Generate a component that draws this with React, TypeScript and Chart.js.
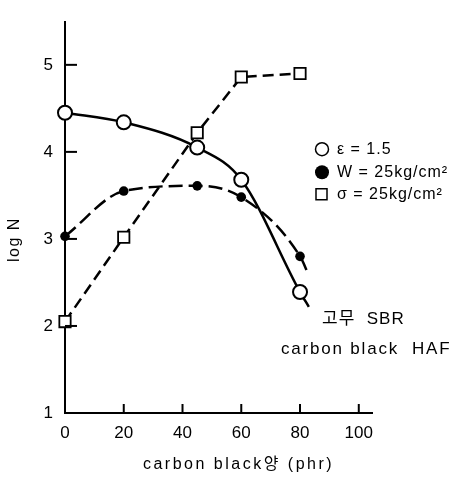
import React, { useEffect, useRef } from 'react';
import { Chart, registerables } from 'chart.js';

Chart.register(...registerables);

// ---- data ----
const carbonBlack = [0, 20, 45, 60, 80];
const logNStrain = [4.45, 4.34, 4.05, 3.68, 2.39]; // ε = 1.5 (open circles)
const logNEnergy = [3.03, 3.55, 3.61, 3.48, 2.8]; // W = 25kg/cm² (filled circles)
const logNStress = [2.05, 3.02, 4.22, 4.86, 4.9]; // σ = 25kg/cm² (squares)
const curveEndX = 83; // where the drawn curves stop past the last point
const logNStrainEnd = 2.22;
const logNEnergyEnd = 2.58;

const xTicks = [0, 20, 40, 60, 80, 100];
const yTicks = [1, 2, 3, 4, 5];

const legendLabels = ['ε = 1.5', 'W = 25kg/cm²', 'σ = 25kg/cm²'];
const xTitle = 'carbon black양 (phr)';
const yTitle = 'log N';
const noteRubber = '고무  SBR';
const noteFiller = 'carbon black  HAF';

const FONT = "'Liberation Sans', Arial, 'Noto Sans CJK KR', sans-serif";

const overlay = {
  id: 'overlay',
  afterDraw(chart: any) {
    const ctx = chart.ctx as CanvasRenderingContext2D;
    const xs = chart.scales.x;
    const ys = chart.scales.y;
    const a = chart.chartArea;
    ctx.save();
    ctx.strokeStyle = '#000';
    ctx.lineWidth = 2;
    // inward tick marks
    ys.ticks.forEach((t: any) => {
      if (t.value === ys.min) return;
      const py = ys.getPixelForValue(t.value);
      ctx.beginPath();
      ctx.moveTo(a.left, py);
      ctx.lineTo(a.left + 12, py);
      ctx.stroke();
    });
    xs.ticks.forEach((t: any) => {
      if (t.value === xs.min) return;
      const px = xs.getPixelForValue(t.value);
      ctx.beginPath();
      ctx.moveTo(px, a.bottom);
      ctx.lineTo(px, a.bottom - 9);
      ctx.stroke();
    });

    ctx.fillStyle = '#000';
    ctx.textBaseline = 'middle';

    // axis titles
    ctx.font = `16px ${FONT}`;
    (ctx as any).letterSpacing = '2.5px';
    ctx.textAlign = 'center';
    ctx.fillText(xTitle, (a.left + a.right) / 2 + 20, a.bottom + 52);

    ctx.save();
    (ctx as any).letterSpacing = '1.5px';
    ctx.translate(15, (a.top + a.bottom) / 2 + 22);
    ctx.rotate(-Math.PI / 2);
    ctx.fillText(yTitle, 0, 0);
    ctx.restore();

    // legend
    const mx = a.right - 50;
    const rows = [a.top + 127, a.top + 150, a.top + 172];
    ctx.lineWidth = 1.5;
    ctx.beginPath();
    ctx.arc(mx, rows[0], 6.5, 0, Math.PI * 2);
    ctx.fillStyle = '#fff';
    ctx.fill();
    ctx.stroke();
    ctx.beginPath();
    ctx.arc(mx, rows[1], 7, 0, Math.PI * 2);
    ctx.fillStyle = '#000';
    ctx.fill();
    ctx.beginPath();
    ctx.rect(mx - 6, rows[2] - 5.5, 11, 11);
    ctx.stroke();

    ctx.fillStyle = '#000';
    ctx.font = `16px ${FONT}`;
    (ctx as any).letterSpacing = '1px';
    ctx.textAlign = 'left';
    legendLabels.forEach((lab, i) => {
      ctx.fillText(lab, mx + 15, rows[i]);
    });

    // notes
    ctx.font = `17px ${FONT}`;
    (ctx as any).letterSpacing = '1px';
    ctx.fillText(noteRubber, a.right - 50, a.top + 297);
    (ctx as any).letterSpacing = '1.8px';
    ctx.fillText(noteFiller, a.right - 91, a.top + 327);

    ctx.restore();
  },
};

export default function App() {
  const ref = useRef<HTMLCanvasElement>(null);

  useEffect(() => {
    if (!ref.current) return;
    const pts = (ys: number[]) => carbonBlack.map((x, i) => ({ x, y: ys[i] }));
    const chart = new Chart(ref.current, {
      type: 'line',
      data: {
        datasets: [
          {
            label: legendLabels[0],
            data: [...pts(logNStrain), { x: curveEndX, y: logNStrainEnd }],
            borderColor: '#000',
            borderWidth: 2.5,
            cubicInterpolationMode: 'monotone',
            pointStyle: 'circle',
            pointRadius: [...carbonBlack.map(() => 7), 0],
            pointBackgroundColor: '#fff',
            pointBorderColor: '#000',
            pointBorderWidth: 2,
            clip: false,
          } as any,
          {
            label: legendLabels[1],
            data: [...pts(logNEnergy), { x: curveEndX, y: logNEnergyEnd }],
            borderColor: '#000',
            borderWidth: 2.5,
            borderDash: [14, 6],
            cubicInterpolationMode: 'monotone',
            pointStyle: 'circle',
            pointRadius: [...carbonBlack.map(() => 4.8), 0],
            pointBackgroundColor: '#000',
            pointBorderColor: '#000',
            pointBorderWidth: 0,
            clip: false,
          } as any,
          {
            label: legendLabels[2],
            data: pts(logNStress),
            borderColor: '#000',
            borderWidth: 2.5,
            borderDash: [11, 6],
            tension: 0,
            pointStyle: 'rect',
            pointRadius: 8,
            pointBackgroundColor: '#fff',
            pointBorderColor: '#000',
            pointBorderWidth: 1.8,
            clip: false,
          } as any,
        ],
      },
      options: {
        animation: false,
        responsive: false,
        events: [],
        layout: { padding: { top: 8, right: 84, left: 0, bottom: 0 } },
        plugins: {
          legend: { display: false },
          tooltip: { enabled: false },
        },
        scales: {
          x: {
            type: 'linear',
            min: 0,
            max: 104.5,
            afterBuildTicks: (s: any) => {
              s.ticks = xTicks.map((v) => ({ value: v }));
            },
            afterFit: (s: any) => {
              s.height = 65;
            },
            grid: { display: true, drawOnChartArea: false, drawTicks: false },
            border: { display: true, color: '#000', width: 2 },
            ticks: {
              color: '#000',
              padding: 10,
              maxRotation: 0,
              font: { family: FONT, size: 17 },
            },
          },
          y: {
            type: 'linear',
            min: 1,
            max: 5.49,
            afterBuildTicks: (s: any) => {
              s.ticks = yTicks.map((v) => ({ value: v }));
            },
            afterFit: (s: any) => {
              s.width = 65;
            },
            grid: { display: true, drawOnChartArea: false, drawTicks: false },
            border: { display: true, color: '#000', width: 2 },
            ticks: {
              color: '#000',
              padding: 12,
              font: { family: FONT, size: 17 },
            },
          },
        },
      },
      plugins: [overlay],
    });
    return () => chart.destroy();
  }, []);

  return (
    <div
      style={{
        position: 'fixed',
        left: 0,
        top: 0,
        width: 456,
        height: 478,
        background: '#fff',
      }}
    >
      <canvas ref={ref} width={456} height={478} style={{ display: 'block' }} />
    </div>
  );
}
